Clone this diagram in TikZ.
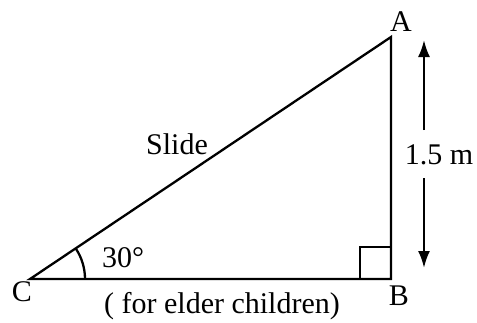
\documentclass[tikz,border=0pt]{standalone}
\usepackage{fontspec}
\setmainfont{Liberation Serif}
\usetikzlibrary{arrows.meta}
\begin{document}
\begin{tikzpicture}[x=1pt,y=-1pt,
  edge/.style={line width=2.3pt,line cap=round,line join=miter},
  lbl/.style={font=\fontsize{30}{32}\selectfont,inner sep=0pt},
  dim/.style={line width=2.3pt,-{Latex[length=17pt,width=12pt]}}]
\useasboundingbox (0,0) rectangle (477,322);
\coordinate (C) at (30,279);
\coordinate (B) at (391,279);
\coordinate (A) at (391,37);
\draw[edge] (C) -- (B) -- (A) -- cycle;
\draw[line width=2.3pt] (360,279) -- (360,247) -- (391,247);
\draw[line width=2.3pt] (C) ++(55,0) arc[start angle=0,end angle=-33.8,radius=55];
\node[lbl] (lA) at (401,22) {A};
\node[lbl] (lB) at (399,296) {B};
\node[lbl] (lC) at (22,292) {C};
\node[lbl] (lang) at (123,258) {30°};
\node[lbl] (slide) at (177,144) {Slide};
\node[lbl] (base) at (222,306) {( for elder children)};
\node[lbl] (h) at (439,155) {1.5 m};
\coordinate (top) at (424,40);
\coordinate (bot) at (424,268);
\coordinate (t1) at (424,130);
\coordinate (b1) at (424,178);
\draw[dim] (t1) -- (top);
\draw[dim] (b1) -- (bot);
\end{tikzpicture}
\end{document}
